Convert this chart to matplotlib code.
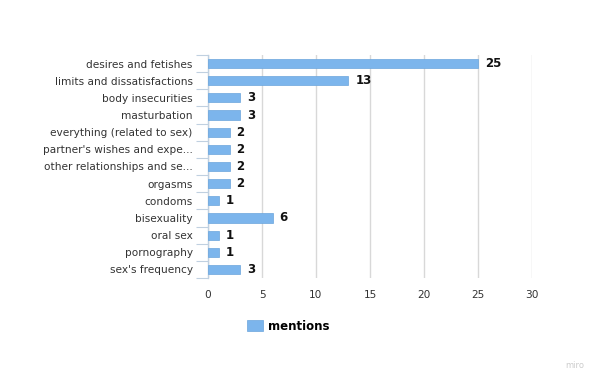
import matplotlib
matplotlib.use('Agg')
import matplotlib.pyplot as plt

categories = [
    "desires and fetishes", "limits and dissatisfactions", "body insecurities",
    "masturbation", "everything (related to sex)", "partner's wishes and expe...",
    "other relationships and se...", "orgasms", "condoms", "bisexuality",
    "oral sex", "pornography", "sex's frequency",
]
mentions = [25, 13, 3, 3, 2, 2, 2, 2, 1, 6, 1, 1, 3]
x_ticks = [0, 5, 10, 15, 20, 25, 30]

plt.rcParams['font.family'] = ['DejaVu Sans']

fig = plt.figure(figsize=(5.99, 3.81), dpi=100)
ax = fig.add_axes([208 / 599, 1 - 278 / 381, (532 - 208) / 599, (278 - 55) / 381])

n = len(categories)
ypos = list(range(n))
bars = ax.barh(ypos, mentions, height=0.53, color='#7cb5ec', edgecolor='#6aa5dc',
               linewidth=0.5, zorder=3, label='mentions')
for y, v in zip(ypos, mentions):
    ax.annotate(str(v), (v, y), xytext=(5, 0), textcoords='offset points',
                va='center', ha='left', fontsize=8.5, fontweight='bold', color='#111111')

ax.set_ylim(n - 0.5, -0.5)
ax.set_xlim(0, 30)
ax.set_yticks(ypos)
ax.set_yticklabels(categories, fontsize=7.6, color='#333333')
ax.set_xticks(x_ticks)
ax.set_xticklabels([str(t) for t in x_ticks], fontsize=7.6, color='#333333')

# category boundary ticks on the left axis
ax.set_yticks([i - 0.5 for i in range(n + 1)], minor=True)
ax.tick_params(axis='y', which='major', length=0, pad=11)
ax.tick_params(axis='y', which='minor', length=9, color='#c0d0e0', width=0.8)
ax.tick_params(axis='x', length=0, pad=9)

ax.grid(axis='x', color='#d8d8d8', linewidth=1, zorder=0)
for s in ['top', 'right', 'bottom']:
    ax.spines[s].set_visible(False)
ax.spines['left'].set_color('#c0d0e0')
ax.spines['left'].set_linewidth(1)

leg = fig.legend(handles=[bars], labels=['mentions'], loc='center left',
                 bbox_to_anchor=(236 / 599, 1 - 326 / 381), frameon=False,
                 prop={'size': 8.5, 'weight': 'bold'}, handlelength=1.4, handleheight=1.0,
                 handletextpad=0.45)

fig.text(565 / 599, 1 - 366 / 381, 'miro', fontsize=6, color='#cccccc', ha='left', va='center')

fig.savefig('out.png', dpi=100)
